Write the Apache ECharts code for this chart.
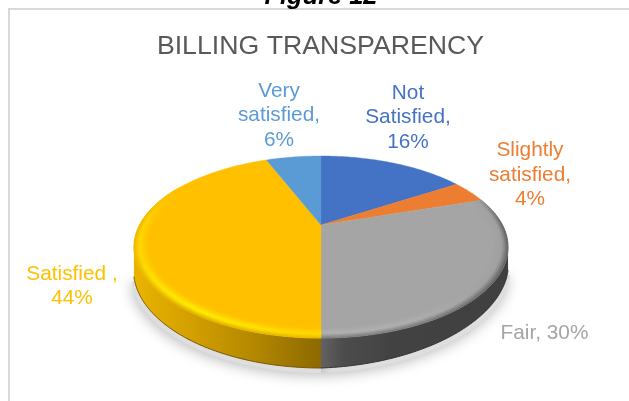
<!DOCTYPE html>
<html><head><meta charset="utf-8">
<style>html,body{margin:0;padding:0;background:#fff}#c{width:629px;height:401px}</style>
<script src="https://cdn.jsdelivr.net/npm/echarts@6/dist/echarts.min.js"></script>
</head><body><div id="c"></div>
<script>
const categories = ['Not Satisfied', 'Slightly satisfied', 'Fair', 'Satisfied ', 'Very satisfied'];
const values = [16, 4, 30, 44, 6];
const labelLines = [['Not', 'Satisfied,'], ['Slightly', 'satisfied,'], ['Fair,'], ['Satisfied ,'], ['Very', 'satisfied,']];
const colors = ['#4472C4', '#ED7D31', '#A5A5A5', '#FFC000', '#5B9BD5'];
const labelColors = ['#4472C4', '#ED7D31', '#A5A5A5', '#FFC000', '#5B9BD5'];
const labelCentres = [[408, 117.5], [530, 175], [544.5, 333], [72, 286.5], [279, 115.5]];

// projection of the pie plane and the lower outline of the disc
const CX = 321, CY = 225, RX = 181.5, RY = 85.7, K = 0.242, RIM = 0.075;
const BOTTOM_CY = 270, BOTTOM_RY = 98, BOTTOM_RX = 187.5, RIGHT_TILT = 0.035;
const FONT = '"Liberation Sans", Arial, sans-serif';
const total = values.reduce((a, b) => a + b, 0);
const starts = []; values.reduce((acc, v, i) => (starts[i] = acc, acc + v), 0);
// angular limits of the visible front wall: from one widest point of the disc to the other
const WALL_FROM = Math.acos(-K), WALL_TO = 2 * Math.PI - WALL_FROM;

function project(theta, r) {
  const u = r * Math.sin(theta), v = -r * Math.cos(theta), w = 1 - K * v;
  return [CX + RX * u / w, CY + RY * v / w];
}
function projectBottom(theta) {
  const x = project(theta, 1)[0], d = (x - CX) / BOTTOM_RX;
  return [x, BOTTOM_CY + BOTTOM_RY * Math.sqrt(Math.max(0, 1 - d * d)) - Math.max(0, x - CX) * RIGHT_TILT];
}
function hex(c) { return [1, 3, 5].map(i => parseInt(c.substr(i, 2), 16)); }
function mix(a, b, t) {
  const A = hex(a), B = hex(b);
  return '#' + A.map((x, i) => Math.round(x + (B[i] - x) * t).toString(16).padStart(2, '0')).join('');
}
function smooth(a, b, x) { const t = Math.min(1, Math.max(0, (x - a) / (b - a))); return t * t * (3 - 2 * t); }

const sideFill = {
  2: new echarts.graphic.LinearGradient(321, 0, 508, 0, [
    { offset: 0, color: '#626262' }, { offset: 0.12, color: '#4c4c4c' }, { offset: 0.4, color: '#424242' }, { offset: 1, color: '#404040' }], true),
  3: new echarts.graphic.LinearGradient(133, 0, 321, 0, [
    { offset: 0, color: '#EAB400' }, { offset: 0.3, color: '#D4A000' }, { offset: 0.6, color: '#B88B00' }, { offset: 1, color: '#8C6900' }], true)
};
const rimStyle = {
  2: (t, th) => {
    const hi = mix('#A0A0A0', '#B2B2B2', smooth(2.0, 3.0, th)), edge = mix('#5E5E5E', '#787878', smooth(1.9, 3.0, th));
    return t < 0.45 ? mix(edge, hi, t / 0.45) : mix(hi, colors[2], (t - 0.45) / 0.55);
  },
  3: (t, th) => {
    const g = Math.exp(-Math.pow((th - 3.75) / 0.45, 2));
    const hi = mix('#FFD600', '#FFEE00', g), edge = mix('#EDB600', '#DDA800', g);
    return t < 0.4 ? mix(edge, hi, t / 0.4) : mix(hi, colors[3], (t - 0.4) / 0.6);
  }
};

function renderSlice(params, api) {
  const i = params.dataIndex, val = api.value(1);
  const a0 = starts[i] / total * 2 * Math.PI, a1 = a0 + val / total * 2 * Math.PI;
  const n = Math.max(8, Math.ceil((a1 - a0) / 0.015));
  const ts = Array.from({ length: n + 1 }, (_, k) => a0 + (a1 - a0) * k / n);
  const arc = r => ts.map(t => project(t, r));
  const kids = [];
  const w0 = Math.max(a0, WALL_FROM), w1 = Math.min(a1, WALL_TO);
  if (w1 > w0) {
    const wt = Array.from({ length: n + 1 }, (_, k) => w0 + (w1 - w0) * k / n);
    const lower = wt.map(projectBottom), upper = wt.map(t => project(t, 1));
    // drop shadow
    kids.push({ type: 'polygon', z2: 0, silent: true,
      shape: { points: lower.map(p => [CX + (p[0] - CX) * 1.012, p[1] + 5]).concat([[CX, BOTTOM_CY]]) },
      style: { fill: '#dedede', shadowBlur: 14, shadowColor: 'rgba(0,0,0,0.28)', shadowOffsetX: -1, shadowOffsetY: 2 } });
    // side wall
    kids.push({ type: 'polygon', z2: 1, shape: { points: upper.concat(lower.slice().reverse()) },
      style: { fill: sideFill[i] } });
    kids.push({ type: 'polyline', z2: 1, silent: true, shape: { points: lower },
      style: { fill: 'none', stroke: i === 3 ? '#6E5300' : '#333333', lineWidth: 1 } });
  }
  // top face
  kids.push({ type: 'polygon', z2: 2, shape: { points: arc(1).concat([project(0, 0)]) },
    style: { fill: colors[i], stroke: colors[i], lineWidth: 0.4 } });
  // bevelled rim
  if (rimStyle[i]) {
    const RS = 8, step = 0.03, m = Math.ceil((a1 - a0) / step);
    for (let k = 0; k < m; k++) {
      const t0 = a0 + (a1 - a0) * k / m, t1 = a0 + (a1 - a0) * (k + 1) / m, mid = (t0 + t1) / 2;
      const amt = smooth(-0.5, 0.05, -Math.cos(mid));
      if (amt <= 0) continue;
      for (let j = 0; j < RS; j++) {
        const r0 = 1 - RIM * j / RS, r1 = 1 - RIM * (j + 1) / RS;
        const c = mix(colors[i], rimStyle[i]((j + 0.5) / RS, mid), amt);
        kids.push({ type: 'polygon', z2: 3, silent: true,
          shape: { points: [project(t0, r0), project(t1, r0), project(t1, r1), project(t0, r1)] },
          style: { fill: c, stroke: c, lineWidth: 0.7 } });
      }
    }
  }
  // data label
  const text = labelLines[i].concat([val + '%']);
  const one = i === 2;
  kids.push({ type: 'text', z2: 5, silent: true,
    style: { text: one ? labelLines[i][0] + ' ' + val + '%' : text.join('\n'), x: labelCentres[i][0], y: labelCentres[i][1],
      fill: labelColors[i], fontSize: 20.8, fontFamily: FONT, lineHeight: 24.5, align: 'center', verticalAlign: 'middle' } });
  return { type: 'group', children: kids };
}

const chart = echarts.init(document.getElementById('c'), null, { renderer: 'canvas' });
chart.setOption({
  animation: false,
  backgroundColor: '#ffffff',
  title: { text: 'BILLING TRANSPARENCY', left: 315.5, top: 28, textAlign: 'center',
    textStyle: { color: '#595959', fontSize: 26.7, fontWeight: 'normal', fontFamily: FONT } },
  graphic: [
    { type: 'line', shape: { x1: 8, y1: 9, x2: 629, y2: 9 }, style: { stroke: '#D9D9D9', lineWidth: 2 } },
    { type: 'line', shape: { x1: 9, y1: 8, x2: 9, y2: 401 }, style: { stroke: '#D9D9D9', lineWidth: 2 } },
    { type: 'rect', shape: { x: 200, y: 0, width: 250, height: 8 }, style: { fill: '#fff' } },
    { type: 'text', style: { text: 'Figure 12', x: 321, y: -3, fill: '#000', font: 'italic bold 25.4px ' + FONT, align: 'center', verticalAlign: 'middle' } }
  ],
  series: [{
    type: 'custom', coordinateSystem: 'none', name: 'BILLING TRANSPARENCY',
    data: categories.map((c, i) => ({ name: c, value: [i, values[i]] })),
    renderItem: renderSlice
  }]
});
</script></body></html>
